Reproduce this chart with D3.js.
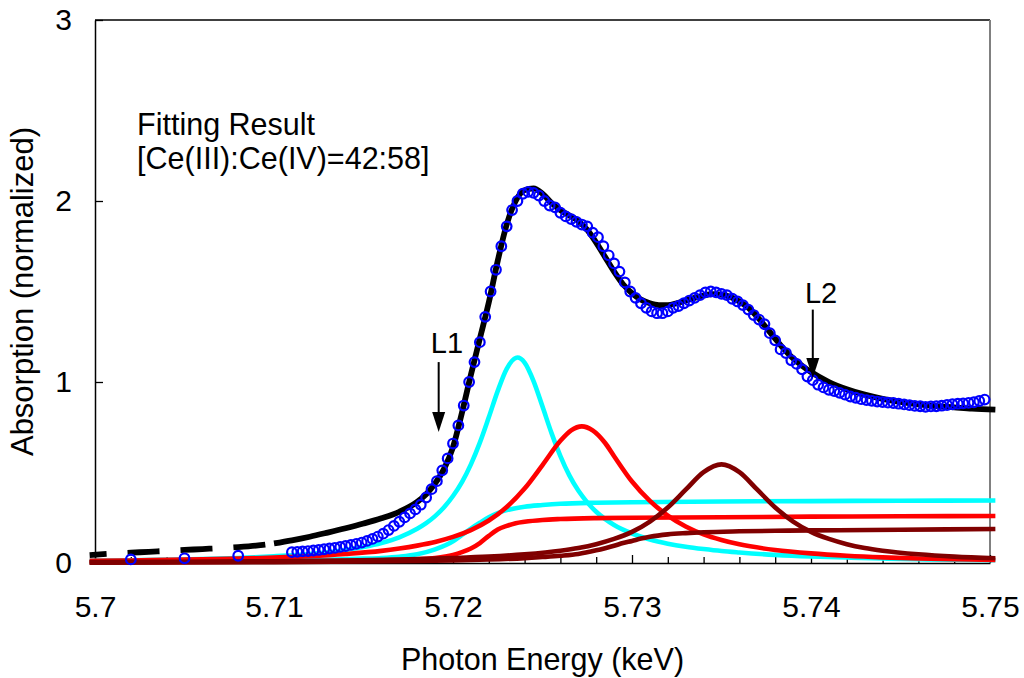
<!DOCTYPE html>
<html><head><meta charset="utf-8">
<script src="https://cdn.jsdelivr.net/npm/d3@7"></script>
<style>body{margin:0;background:#fff}svg{display:block;font-family:"Liberation Sans",Arial,sans-serif}</style>
</head><body><svg id="c" width="1024" height="678"></svg>
<script>
// ---- axis ticks ----
const xTickValues=[5.7,5.71,5.72,5.73,5.74,5.75];
const xTickLabels=["5.7","5.71","5.72","5.73","5.74","5.75"];
const xMinorTicks=[5.702,5.704,5.706,5.708,5.712,5.714,5.716,5.718,5.722,5.724,5.726,5.728,5.732,5.734,5.736,5.738,5.742,5.744,5.746,5.748];
const yTickValues=[0,1,2,3];
const yTickLabels=["0","1","2","3"];
const xTitle="Photon Energy (keV)";
const yTitle="Absorption (normalized)";

// ---- measured data (open circles) ----
const dataE=[5.702,5.705,5.708,
5.7110,5.7113,5.7116,5.7119,5.7122,5.7125,5.7128,5.7131,5.7134,5.7137,5.7140,5.7143,5.7146,5.7149,5.7152,5.7155,5.7158,5.7161,5.7164,5.7167,
5.7170,5.7173,5.7176,5.7179,5.7182,5.7185,5.7188,5.7191,5.7194,5.7197,5.7200,5.7203,5.7206,5.7209,5.7212,5.7215,5.7218,5.7221,5.7224,5.7227,
5.7230,5.7233,5.7236,5.7239,5.7242,5.7245,5.7248,5.7251,5.7254,5.7257,5.7260,5.7263,5.7266,5.7269,5.7272,5.7275,5.7278,5.7281,5.7284,5.7287,
5.7290,5.7293,5.7296,5.7299,5.7302,5.7305,5.7308,5.7311,5.7314,5.7317,5.7320,5.7323,5.7326,5.7329,5.7332,5.7335,5.7338,5.7341,5.7344,5.7347,
5.7350,5.7353,5.7356,5.7359,5.7362,5.7365,5.7368,5.7371,5.7374,5.7377,5.7380,5.7383,5.7386,5.7389,5.7392,5.7395,5.7398,5.7401,5.7404,5.7407,
5.7410,5.7413,5.7416,5.7419,5.7422,5.7425,5.7428,5.7431,5.7434,5.7437,5.7440,5.7443,5.7446,5.7449,5.7452,5.7455,5.7458,5.7461,5.7464,5.7467,
5.7470,5.7473,5.7476,5.7479,5.7482,5.7485,5.7488,5.7491,5.7494,5.7497];
const dataV=[0.020,0.026,0.040,
0.060,0.062,0.064,0.066,0.069,0.072,0.076,0.080,0.084,0.089,0.094,0.100,0.106,0.113,0.122,0.133,0.146,0.162,0.182,0.205,
0.228,0.252,0.274,0.296,0.322,0.362,0.408,0.452,0.512,0.578,0.660,0.760,0.870,1.000,1.110,1.220,1.360,1.500,1.620,1.750,
1.860,1.950,2.000,2.040,2.050,2.045,2.030,2.000,1.975,1.965,1.935,1.915,1.900,1.885,1.870,1.860,1.825,1.800,1.750,1.700,
1.655,1.610,1.550,1.500,1.465,1.435,1.410,1.390,1.380,1.380,1.390,1.410,1.420,1.435,1.450,1.465,1.480,1.495,1.500,1.495,
1.487,1.480,1.460,1.445,1.425,1.400,1.370,1.345,1.320,1.270,1.230,1.180,1.160,1.120,1.100,1.070,1.030,1.010,0.985,0.970,
0.957,0.950,0.940,0.930,0.920,0.913,0.905,0.900,0.896,0.892,0.889,0.886,0.884,0.880,0.876,0.872,0.868,0.866,0.863,0.865,
0.866,0.869,0.873,0.877,0.880,0.882,0.885,0.888,0.895,0.903];

// ---- fitted total (black) ----
const fitE=[5.6997,5.701,5.702,5.703,5.704,5.705,5.706,5.707,5.708,5.709,5.710,5.711,5.712,5.713,5.714,5.715,5.716,5.717,5.718,5.7185,
5.719,5.7195,5.720,5.7205,5.721,5.7215,5.722,5.7225,5.723,5.7235,5.724,5.7245,5.725,5.7255,5.726,5.7265,5.727,5.7275,5.728,5.7285,
5.729,5.7295,5.730,5.7305,5.731,5.7315,5.732,5.7325,5.733,5.7335,5.734,5.7345,5.735,5.7355,5.736,5.7365,5.737,5.7375,5.738,5.7385,
5.739,5.7395,5.740,5.741,5.742,5.743,5.744,5.745,5.746,5.747,5.748,5.749,5.7503];
const fitV=[0.044,0.052,0.057,0.062,0.067,0.072,0.077,0.082,0.088,0.096,0.108,0.125,0.145,0.168,0.192,0.218,0.247,0.283,0.338,0.380,
0.440,0.520,0.640,0.830,1.040,1.240,1.440,1.670,1.870,2.000,2.060,2.070,2.040,1.990,1.950,1.920,1.890,1.840,1.770,1.690,
1.610,1.540,1.490,1.455,1.435,1.425,1.425,1.435,1.450,1.465,1.478,1.485,1.483,1.470,1.445,1.410,1.360,1.300,1.240,1.180,
1.130,1.090,1.055,1.000,0.960,0.930,0.907,0.890,0.877,0.867,0.860,0.853,0.847];
const fitDashedUntil=5.710;

// ---- components ----
const cyanPeakE=[5.6997,5.702,5.704,5.706,5.708,5.710,5.712,5.714,5.715,5.716,5.717,5.718,5.7185,5.719,5.7195,5.720,5.7205,5.721,5.7215,5.722,
5.7225,5.723,5.7236,5.724,5.7245,5.725,5.7255,5.726,5.7265,5.727,5.7275,5.728,5.729,5.730,5.731,5.732,5.733,5.734,5.735,5.736,
5.738,5.740,5.742,5.744,5.746,5.748,5.7503];
const cyanPeakV=[0.012,0.015,0.018,0.022,0.028,0.037,0.050,0.072,0.089,0.111,0.142,0.189,0.220,0.259,0.308,0.370,0.447,0.545,0.665,0.805,
0.951,1.073,1.135,1.107,1.005,0.864,0.719,0.591,0.484,0.400,0.335,0.283,0.210,0.163,0.130,0.107,0.090,0.077,0.066,0.058,
0.045,0.036,0.030,0.025,0.021,0.018,0.015];
const cyanStepE=[5.6997,5.705,5.710,5.713,5.715,5.716,5.717,5.718,5.719,5.720,5.7205,5.721,5.7215,5.722,5.7225,5.723,5.7235,5.724,5.725,5.726,5.728,5.730,5.735,5.740,5.745,5.7503];
const cyanStepV=[0.005,0.008,0.013,0.018,0.024,0.028,0.035,0.048,0.075,0.120,0.155,0.190,0.222,0.252,0.275,0.292,0.303,0.311,0.320,0.327,0.333,0.336,0.340,0.342,0.344,0.345];
const redPeakE=[5.6997,5.702,5.704,5.706,5.708,5.710,5.712,5.714,5.716,5.717,5.718,5.719,5.720,5.721,5.722,5.723,5.724,5.725,5.726,5.7266,
5.7272,5.7278,5.7285,5.729,5.730,5.731,5.732,5.733,5.734,5.735,5.736,5.738,5.740,5.742,5.744,5.746,5.748,5.7503];
const redPeakV=[0.012,0.014,0.017,0.020,0.024,0.030,0.038,0.050,0.067,0.080,0.096,0.116,0.144,0.182,0.235,0.309,0.411,0.541,0.675,0.733,
0.755,0.733,0.663,0.590,0.450,0.343,0.262,0.202,0.158,0.127,0.103,0.072,0.053,0.040,0.031,0.025,0.021,0.017];
const redStepE=[5.6997,5.710,5.715,5.718,5.719,5.720,5.7205,5.721,5.7215,5.722,5.7225,5.723,5.7235,5.724,5.725,5.726,5.728,5.730,5.735,5.740,5.745,5.7503];
const redStepV=[0.004,0.008,0.013,0.020,0.028,0.045,0.060,0.080,0.110,0.150,0.185,0.205,0.220,0.228,0.238,0.243,0.248,0.250,0.253,0.256,0.258,0.260];
const darkPeakE=[5.6997,5.705,5.710,5.714,5.717,5.720,5.722,5.724,5.726,5.727,5.728,5.729,5.730,5.731,5.732,5.733,5.734,5.735,5.736,5.737,
5.738,5.739,5.740,5.741,5.742,5.743,5.744,5.746,5.748,5.7503];
const darkPeakV=[0.005,0.007,0.010,0.014,0.019,0.027,0.035,0.048,0.068,0.083,0.104,0.133,0.172,0.229,0.307,0.405,0.502,0.545,0.502,0.405,
0.307,0.229,0.172,0.133,0.104,0.083,0.068,0.048,0.035,0.026];
const darkStepE=[5.6997,5.710,5.715,5.718,5.720,5.722,5.724,5.725,5.726,5.727,5.728,5.7285,5.729,5.7295,5.730,5.7305,5.731,5.732,5.733,5.734,5.736,5.738,5.740,5.745,5.7503];
const darkStepV=[0.002,0.005,0.008,0.011,0.014,0.019,0.027,0.033,0.040,0.050,0.070,0.082,0.095,0.110,0.122,0.135,0.145,0.158,0.165,0.170,0.175,0.178,0.180,0.184,0.188];

// ---- annotations ----
const noteLines=["Fitting Result","[Ce(III):Ce(IV)=42:58]"];
const noteE=5.70235, noteV=[2.365,2.177];
const arrowLabels=["L1","L2"];
const arrowE=[5.7192,5.7401];
const arrowTopV=[1.11,1.40];
const arrowTipV=[0.724,1.022];
const labelE=[5.71966,5.74056];
const labelV=[1.16,1.436];

// ---- drawing ----
const svg=d3.select("#c");
const x=d3.scaleLinear().domain([5.7,5.75]).range([95,990]);
const y=d3.scaleLinear().domain([0,3]).range([563,20]);
const zip=(a,b)=>a.slice(0,Math.min(a.length,b.length)).map((e,i)=>[e,b[i]]);
const line=d3.line().x(d=>x(d[0])).y(d=>y(d[1])).curve(d3.curveMonotoneX);

// frame
svg.append("line").attr("x1",x(5.7)).attr("x2",x(5.75)).attr("y1",y(3)).attr("y2",y(3)).attr("stroke","#000").attr("stroke-width",1.5);
svg.append("line").attr("x1",x(5.75)).attr("x2",x(5.75)).attr("y1",y(3)).attr("y2",y(0)).attr("stroke","#808080").attr("stroke-width",2);

// axes
const gx=svg.append("g").attr("transform",`translate(0,${y(0)})`)
  .call(d3.axisBottom(x).tickValues(xTickValues).tickFormat((d,i)=>xTickLabels[i]).tickSizeInner(-8).tickSizeOuter(0).tickPadding(33));
const gxm=svg.append("g").attr("transform",`translate(0,${y(0)})`)
  .call(d3.axisBottom(x).tickValues(xMinorTicks).tickFormat("").tickSizeInner(-6).tickSizeOuter(0));
gxm.select(".domain").remove();
const gy=svg.append("g").attr("transform",`translate(${x(5.7)},0)`)
  .call(d3.axisLeft(y).tickValues(yTickValues).tickFormat((d,i)=>yTickLabels[i]).tickSizeInner(-8).tickSizeOuter(0).tickPadding(23));
[gx,gy].forEach(g=>{g.selectAll("text").attr("font-size",30).attr("font-family","'Liberation Sans',Arial,sans-serif").attr("fill","#000");
  g.select(".domain").attr("stroke-width",1.5);});
svg.selectAll(".tick line").attr("stroke","#000").attr("stroke-width",1.3);

// component curves
const comps=[[cyanStepE,cyanStepV,"#00ffff"],[cyanPeakE,cyanPeakV,"#00ffff"],
  [redStepE,redStepV,"#ff0000"],[redPeakE,redPeakV,"#ff0000"],
  [darkStepE,darkStepV,"#800000"],[darkPeakE,darkPeakV,"#800000"]];
comps.forEach(([e,v,c])=>{
  svg.append("path").datum(zip(e,v)).attr("d",line).attr("fill","none").attr("stroke",c).attr("stroke-width",4.6).attr("stroke-linejoin","round");
});

// fit
const fitPts=zip(fitE,fitV);
svg.append("path").datum(fitPts.filter(d=>d[0]<=fitDashedUntil)).attr("d",line).attr("fill","none")
  .attr("stroke","#000").attr("stroke-width",5.8).attr("stroke-dasharray","32,21").attr("stroke-dashoffset",15);
svg.append("path").datum(fitPts.filter(d=>d[0]>=fitDashedUntil)).attr("d",line).attr("fill","none")
  .attr("stroke","#000").attr("stroke-width",5.8).attr("stroke-linejoin","round");

// data circles
svg.append("g").selectAll("circle").data(zip(dataE,dataV)).join("circle")
  .attr("cx",d=>x(d[0])).attr("cy",d=>y(d[1])).attr("r",4.8)
  .attr("fill","none").attr("stroke","#0000ff").attr("stroke-width",2.2);

// annotation text
svg.append("g").selectAll("text").data(noteLines).join("text")
  .attr("x",x(noteE)).attr("y",(d,i)=>y(noteV[i])).attr("font-size",30.5).attr("fill","#000").text(d=>d);

// arrows
arrowLabels.forEach((lab,i)=>{
  const ax=x(arrowE[i]), yt=y(arrowTopV[i]), yp=y(arrowTipV[i]);
  svg.append("line").attr("x1",ax).attr("x2",ax).attr("y1",yt).attr("y2",yp-16).attr("stroke","#000").attr("stroke-width",2);
  svg.append("path").attr("d",`M${ax-6.5},${yp-20}L${ax+6.5},${yp-20}L${ax},${yp}Z`).attr("fill","#000");
  svg.append("text").attr("x",x(labelE[i])).attr("y",y(labelV[i])).attr("text-anchor","middle").attr("font-size",29).attr("fill","#000").text(lab);
});

// axis titles
svg.append("text").attr("x",(x(5.7)+x(5.75))/2).attr("y",670).attr("text-anchor","middle").attr("font-size",30.5).attr("fill","#000").text(xTitle);
svg.append("text").attr("transform",`translate(33,${(y(0)+y(3))/2}) rotate(-90)`).attr("text-anchor","middle").attr("font-size",31).attr("fill","#000").text(yTitle);
</script></body></html>
